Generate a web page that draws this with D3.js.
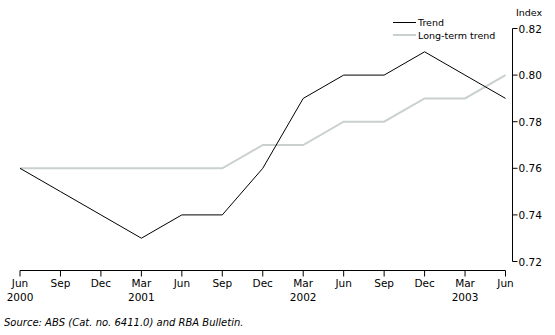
<!DOCTYPE html>
<html><head><meta charset="utf-8">
<script src="https://cdn.jsdelivr.net/npm/d3@7"></script>
<style>body{margin:0;background:#fff}svg{display:block}text{font-family:"DejaVu Sans",Verdana,sans-serif}</style>
</head><body>
<script>
const months = ["Jun","Sep","Dec","Mar","Jun","Sep","Dec","Mar","Jun","Sep","Dec","Mar","Jun"];
const years = ["2000","","","2001","","","","2002","","","","2003",""];
const trend = [0.76,0.75,0.74,0.73,0.74,0.74,0.76,0.79,0.80,0.80,0.81,0.80,0.79];
const longTerm = [0.76,0.76,0.76,0.76,0.76,0.76,0.77,0.77,0.78,0.78,0.79,0.79,0.80];
const yTicks = [0.72,0.74,0.76,0.78,0.80,0.82];

const W=555,H=335;
const svg=d3.select("body").append("svg").attr("width",W).attr("height",H);
const x=d3.scaleLinear().domain([0,12]).range([20,505.5]);
const y=d3.scaleLinear().domain([0.72,0.82]).range([261.5,28.5]);

// x axis
const xa=svg.append("g").attr("transform","translate(0,270.5)");
xa.append("line").attr("x1",x(0)).attr("x2",x(12)).attr("stroke","#000");
months.forEach((m,i)=>{
  xa.append("line").attr("x1",x(i)).attr("x2",x(i)).attr("y1",0).attr("y2",6).attr("stroke","#000");
  xa.append("text").attr("x",x(i)).attr("y",16).attr("text-anchor","middle").attr("font-size",10.5).text(m);
  if(years[i]) xa.append("text").attr("x",x(i)).attr("y",30).attr("text-anchor","middle").attr("font-size",10.5).text(years[i]);
});

// y axis right
const ya=svg.append("g").attr("transform","translate(512.5,0)");
ya.append("line").attr("y1",y(0.82)).attr("y2",y(0.72)).attr("stroke","#000");
yTicks.forEach(t=>{
  ya.append("line").attr("x1",0).attr("x2",5).attr("y1",y(t)).attr("y2",y(t)).attr("stroke","#000");
  ya.append("text").attr("x",6).attr("y",y(t)+4).attr("font-size",10.5).text(t.toFixed(2));
});
svg.append("text").attr("x",516).attr("y",16).attr("font-size",9.5).text("Index");

const line=d3.line().x((d,i)=>x(i)).y(d=>y(d));
svg.append("path").datum(longTerm).attr("d",line).attr("fill","none").attr("stroke","#c9d1ce").attr("stroke-width",2);
svg.append("path").datum(trend).attr("d",line).attr("fill","none").attr("stroke","#000").attr("stroke-width",1);

// legend
const lg=svg.append("g");
lg.append("line").attr("x1",393).attr("x2",416).attr("y1",22.5).attr("y2",22.5).attr("stroke","#000");
lg.append("text").attr("x",418).attr("y",26).attr("font-size",9.5).text("Trend");
lg.append("line").attr("x1",393).attr("x2",416).attr("y1",35).attr("y2",35).attr("stroke","#c9d1ce").attr("stroke-width",2);
lg.append("text").attr("x",418).attr("y",39).attr("font-size",9.5).text("Long-term trend");

svg.append("text").attr("x",4).attr("y",326).attr("font-size",10).attr("font-style","italic").text("Source: ABS (Cat. no. 6411.0) and RBA Bulletin.");
</script>
</body></html>
